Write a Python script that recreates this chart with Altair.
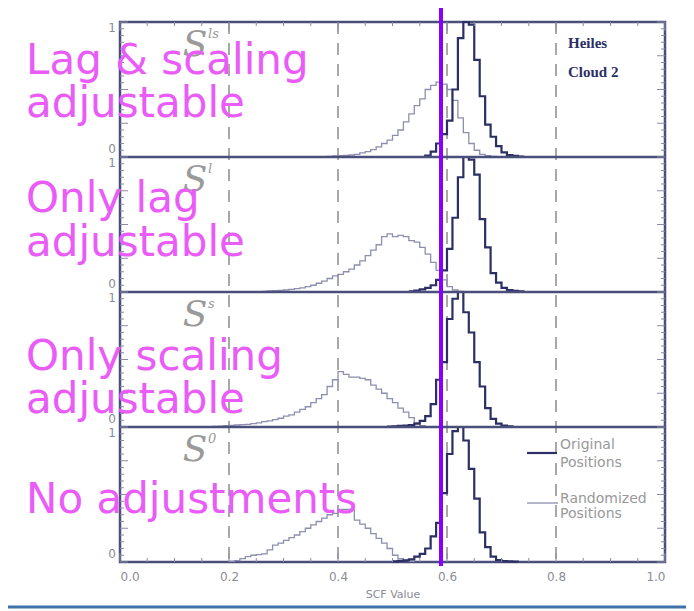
import altair as alt
import pandas as pd

# ---------------- data ----------------
BIN = 0.01
# panel order: top -> bottom
panel_names = ["S", "S", "S", "S"]
panel_sups = ["ls", "l", "s", "0"]

p1_dark_start = 0.55
p1_dark = [0.0, 0.01, 0.04, 0.10, 0.17, 0.27, 0.50, 0.88, 1.0, 0.98, 0.72, 0.45,
           0.24, 0.15, 0.08, 0.035, 0.015, 0.008, 0.003, 0.0]
p1_light_start = 0.37
p1_light = [0.003, 0.005, 0.008, 0.01, 0.012, 0.015, 0.02, 0.03, 0.04, 0.055, 0.075,
            0.10, 0.125, 0.16, 0.20, 0.26, 0.32, 0.38, 0.43, 0.50, 0.53, 0.555, 0.54,
            0.50, 0.42, 0.29, 0.18, 0.10, 0.05, 0.02, 0.01, 0.004, 0.0]

p2_dark_start = 0.53
p2_dark = [0.005, 0.01, 0.02, 0.03, 0.05, 0.09, 0.16, 0.32, 0.55, 0.85, 1.0, 0.98,
           0.87, 0.54, 0.33, 0.14, 0.07, 0.03, 0.015, 0.008, 0.004, 0.0]
p2_light_start = 0.26
p2_light = [0.005, 0.008, 0.01, 0.012, 0.015, 0.02, 0.025, 0.03, 0.04, 0.05, 0.065,
            0.08, 0.10, 0.12, 0.13, 0.15, 0.17, 0.20, 0.23, 0.27, 0.31, 0.35, 0.41,
            0.43, 0.41, 0.42, 0.41, 0.38, 0.37, 0.33, 0.28, 0.22, 0.16, 0.09, 0.04,
            0.015, 0.005, 0.0]

p3_dark_start = 0.49
p3_dark = [0.003, 0.005, 0.008, 0.01, 0.015, 0.025, 0.045, 0.08, 0.17, 0.35, 0.48,
           0.80, 0.95, 1.0, 0.85, 0.70, 0.48, 0.30, 0.14, 0.06, 0.025, 0.01, 0.004, 0.0]
p3_light_start = 0.16
p3_light = [0.003, 0.005, 0.007, 0.01, 0.012, 0.015, 0.018, 0.02, 0.025, 0.03, 0.04,
            0.045, 0.055, 0.065, 0.08, 0.09, 0.11, 0.13, 0.15, 0.18, 0.21, 0.24, 0.30,
            0.35, 0.41, 0.39, 0.37, 0.37, 0.36, 0.35, 0.31, 0.28, 0.25, 0.21, 0.18,
            0.14, 0.11, 0.07, 0.03, 0.01, 0.0]

p4_dark_start = 0.50
p4_dark = [0.005, 0.008, 0.012, 0.02, 0.04, 0.06, 0.10, 0.19, 0.29, 0.51, 0.80, 0.97,
           1.0, 0.90, 0.69, 0.47, 0.22, 0.11, 0.04, 0.015, 0.007, 0.005, 0.003, 0.0]
p4_light_start = 0.20
p4_light = [0.005, 0.01, 0.025, 0.04, 0.05, 0.055, 0.06, 0.09, 0.125, 0.14, 0.16, 0.18,
            0.20, 0.225, 0.25, 0.275, 0.30, 0.325, 0.35, 0.36, 0.39, 0.39, 0.39, 0.31,
            0.28, 0.25, 0.21, 0.175, 0.14, 0.10, 0.05, 0.025, 0.012, 0.005, 0.0]

series = [
    (0, "Original", p1_dark_start, p1_dark), (0, "Randomized", p1_light_start, p1_light),
    (1, "Original", p2_dark_start, p2_dark), (1, "Randomized", p2_light_start, p2_light),
    (2, "Original", p3_dark_start, p3_dark), (2, "Randomized", p3_light_start, p3_light),
    (3, "Original", p4_dark_start, p4_dark), (3, "Randomized", p4_light_start, p4_light),
]

dashed_x = [0.2, 0.4, 0.6, 0.8]
marker_x = [0.589]
x_tick_values = [0.0, 0.2, 0.4, 0.6, 0.8, 1.0]

overlay_lines = ["Lag & scaling", "adjustable", "Only lag", "adjustable",
                 "Only scaling", "adjustable", "No adjustments"]
overlay_px = [-94, -94, -94, -94, -94, -94, -94]
overlay_py = [52, 95, 190, 234, 348, 391, 491]

legend_labels = ["Original", "Positions", "Randomized", "Positions"]
cloud_labels = ["Heiles", "Cloud 2"]

# ---------------- build tables ----------------
rows = []
for pidx, name, start, vals in series:
    off = 3 - pidx
    for j, v in enumerate(vals):
        rows.append({"x": round(start + j * BIN, 4), "y": off + v, "panel": pidx, "series": name})
hist = pd.DataFrame(rows)

W, H = 545, 540
PH = H / 4

xs = alt.Scale(domain=[0, 1], nice=False, zero=False)
ys = alt.Scale(domain=[0, 4], nice=False, zero=False)
GRAY = "#8c8c96"
FRAME = "#4a4e7a"

xaxis = alt.Axis(values=x_tick_values, format=".1f", labelColor=GRAY, labelFont="DejaVu Sans",
                 labelFontSize=12, labelPadding=9, ticks=False, domain=False, grid=False,
                 titleColor=GRAY, titleFont="DejaVu Sans", titleFontSize=11,
                 titleFontWeight="normal", titlePadding=6)


def X(f="x"):
    return alt.X(f"{f}:Q", scale=xs, axis=xaxis, title="SCF Value")


def Y(f="y"):
    return alt.Y(f"{f}:Q", scale=ys, axis=None)


def PX(f="px"):
    return alt.X(f"{f}:Q", scale=None, axis=None)


def PY(f="py"):
    return alt.Y(f"{f}:Q", scale=None, axis=None)


# dashed verticals
dash = alt.Chart(pd.DataFrame({"x": dashed_x})).mark_rule(
    color="#7a7a7a", strokeWidth=1.3, strokeDash=[12, 9]).encode(x=X())

# panel separators
sep = alt.Chart(pd.DataFrame({"y": [1, 2, 3]})).mark_rule(
    color=FRAME, strokeWidth=2.5).encode(y=Y())

# inner ticks on left / right
ytick_vals = [round(k * 0.05, 3) for k in range(0, 81)]
ytk = pd.DataFrame({"y": ytick_vals,
                    "len": [8 if abs((v * 4) - round(v * 4)) < 1e-6 else 4 for v in ytick_vals]})
ytk["len_r"] = W - ytk["len"]
lt = alt.Chart(ytk).mark_rule(color="#8a8ca5", strokeWidth=1).encode(
    y=Y(), x=alt.value(0), x2=alt.X2("len:Q"))
lt = alt.Chart(ytk).mark_rule(color="#8a8ca5", strokeWidth=1).encode(
    y=Y(), x=PX("len"), x2=alt.value(0))
rt = alt.Chart(ytk).mark_rule(color="#8a8ca5", strokeWidth=1).encode(
    y=Y(), x=PX("len_r"), x2=alt.value(W))

xtick_vals = [round(k * 0.05, 3) for k in range(0, 21)]
xtk = pd.DataFrame({"x": xtick_vals,
                    "l": [9 if abs(v * 5 - round(v * 5)) < 1e-6 else 4 for v in xtick_vals]})
xtk["yb"] = H - xtk["l"]
bt = alt.Chart(xtk).mark_rule(color="#8a8ca5", strokeWidth=1).encode(
    x=X(), y=PY("yb"), y2=alt.value(H))
tt = alt.Chart(xtk).mark_rule(color="#8a8ca5", strokeWidth=1).encode(
    x=X(), y=PY("l"), y2=alt.value(0))

# histograms
light = alt.Chart(hist[hist.series == "Randomized"]).mark_line(
    interpolate="step-after", color="#8d8fae", strokeWidth=1.3).encode(
    x=X(), y=Y(), detail="panel:N")
dark = alt.Chart(hist[hist.series == "Original"]).mark_line(
    interpolate="step-after", color="#2b2f63", strokeWidth=2.2).encode(
    x=X(), y=Y(), detail="panel:N")

# panel y labels 0 / 1
ones = alt.Chart(pd.DataFrame({"y": [1, 2, 3, 4], "t": ["1"] * 4})).mark_text(
    align="right", baseline="top", dx=-4, dy=1, font="DejaVu Sans", fontSize=12, color=GRAY).encode(
    y=Y(), x=alt.value(0), text="t:N")
zeros = alt.Chart(pd.DataFrame({"y": [0, 1, 2, 3], "t": ["0"] * 4})).mark_text(
    align="right", baseline="bottom", dx=-4, dy=-1, font="DejaVu Sans", fontSize=12, color=GRAY).encode(
    y=Y(), x=alt.value(0), text="t:N")

# S labels
s_df = pd.DataFrame({"px": [75] * 4, "py": [23 + i * PH for i in range(4)], "t": panel_names})
s_lab = alt.Chart(s_df).mark_text(font="DejaVu Serif", fontStyle="italic", fontSize=36,
                                  color="#9a9a9a", align="center", baseline="middle").encode(
    x=PX(), y=PY(), text="t:N")
sup_df = pd.DataFrame({"px": [88] * 4, "py": [12 + i * PH for i in range(4)], "t": panel_sups})
s_sup = alt.Chart(sup_df).mark_text(font="DejaVu Serif", fontStyle="italic", fontSize=13,
                                    color="#9a9a9a", align="left", baseline="middle").encode(
    x=PX(), y=PY(), text="t:N")

# Heiles Cloud 2
cl = alt.Chart(pd.DataFrame({"px": [448, 448], "py": [21, 50], "t": cloud_labels})).mark_text(
    font="Liberation Serif", fontWeight="bold", fontSize=15, color="#2b2f63",
    align="left", baseline="middle").encode(x=PX(), y=PY(), text="t:N")

# legend (inside bottom panel)
lg = alt.Chart(pd.DataFrame({"px": [440] * 4, "py": [423, 441, 477, 492], "t": legend_labels})).mark_text(
    font="DejaVu Sans", fontSize=14, color="#999999", align="left", baseline="middle").encode(
    x=PX(), y=PY(), text="t:N")
lg_dark = alt.Chart(pd.DataFrame({"a": [0]})).mark_rule(color="#2b2f63", strokeWidth=2.2).encode(
    x=alt.value(407), x2=alt.value(437), y=alt.value(431))
lg_light = alt.Chart(pd.DataFrame({"a": [0]})).mark_rule(color="#8d8fae", strokeWidth=1.3).encode(
    x=alt.value(407), x2=alt.value(438), y=alt.value(481))

# purple marker line
purple = alt.Chart(pd.DataFrame({"x": marker_x})).mark_rule(color="#8a00ff", strokeWidth=4).encode(
    x=X(), y=alt.value(-17), y2=alt.value(544))

# magenta overlay text
ov = alt.Chart(pd.DataFrame({"px": overlay_px, "py": overlay_py, "t": overlay_lines})).mark_text(
    font="DejaVu Sans", fontSize=42, color="#ea5cf7", align="left", baseline="alphabetic").encode(
    x=PX(), y=PY(), text="t:N")

# slide border line at the bottom
blue = alt.Chart(pd.DataFrame({"a": [0]})).mark_rule(color="#3d72ab", strokeWidth=3).encode(
    x=alt.value(-112), x2=alt.value(574), y=alt.value(585))

chart = alt.layer(
    dash, light, dark, sep, lt, rt, bt, tt, ones, zeros, s_lab, s_sup, cl, lg, lg_dark, lg_light,
    ov, purple, blue
).properties(
    width=W, height=H,
    autosize=alt.AutoSizeParams(type="none"),
    padding={"left": 112, "top": 14, "right": 21, "bottom": 49},
    background="white",
).configure_view(stroke=FRAME, strokeWidth=2.5)

chart.save("out.html", embed_options={"renderer": "svg", "actions": False})
